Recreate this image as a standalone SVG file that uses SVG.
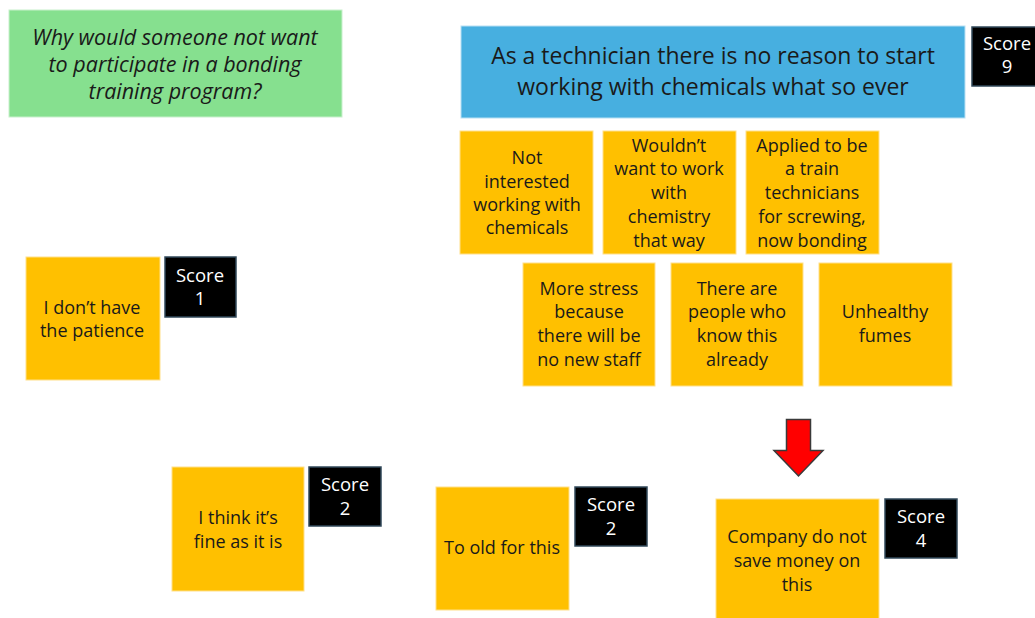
<svg xmlns="http://www.w3.org/2000/svg" width="1035" height="618" viewBox="0 0 1035 618">
  <style>
    .bg { fill: #ffffff; }
    .note { fill: #FFC000; stroke: #FFE08A; stroke-width: 1; }
    .score { fill: #000000; stroke: #30485A; stroke-width: 1.5; }
    .t { font-family: "Open Sans", "Liberation Sans", Arial, sans-serif; fill: #1a1a1a; text-anchor: middle; }
    .nt { font-size: 18px; }
    .st { font-size: 18.5px; fill: #ffffff; }
    .q { font-size: 21.5px; font-style: italic; }
    .h { font-size: 23px; }
  </style>
  <rect class="bg" x="0" y="0" width="1035" height="618"/>

  <!-- question -->
  <g id="question">
    <rect x="9" y="10" width="333" height="107" fill="#86E08F" stroke="#C8F0CC" stroke-width="1"/>
    <text class="t q" x="175" y="45">Why would someone not want</text>
    <text class="t q" x="175" y="72">to participate in a bonding</text>
    <text class="t q" x="175" y="99">training program?</text>
  </g>

  <!-- main reason -->
  <g id="main-reason">
    <rect x="461" y="26" width="504" height="92" fill="#47AFE0" stroke="#B8E0F4" stroke-width="1"/>
    <text class="t h" x="713" y="64">As a technician there is no reason to start</text>
    <text class="t h" x="713" y="95">working with chemicals what so ever</text>
  </g>
  <g id="score-9">
    <rect class="score" x="972" y="27" width="66" height="59"/>
    <text class="t st" x="1007" y="50">Score</text>
    <text class="t st" x="1007" y="73">9</text>
  </g>

  <!-- sub-reasons, first row -->
  <g id="note-not-interested">
    <rect class="note" x="460" y="131" width="133" height="123"/>
    <text class="t nt" x="527" y="164">Not</text>
    <text class="t nt" x="527" y="188">interested</text>
    <text class="t nt" x="527" y="211">working with</text>
    <text class="t nt" x="527" y="234">chemicals</text>
  </g>
  <g id="note-chemistry">
    <rect class="note" x="603" y="131" width="133" height="123"/>
    <text class="t nt" x="669" y="152">Wouldn’t</text>
    <text class="t nt" x="669" y="175">want to work</text>
    <text class="t nt" x="669" y="199">with</text>
    <text class="t nt" x="669" y="223">chemistry</text>
    <text class="t nt" x="669" y="247">that way</text>
  </g>
  <g id="note-applied">
    <rect class="note" x="746" y="131" width="133" height="123"/>
    <text class="t nt" x="812" y="152">Applied to be</text>
    <text class="t nt" x="812" y="175">a train</text>
    <text class="t nt" x="812" y="199">technicians</text>
    <text class="t nt" x="812" y="223">for screwing,</text>
    <text class="t nt" x="812" y="247">now bonding</text>
  </g>

  <!-- sub-reasons, second row -->
  <g id="note-stress">
    <rect class="note" x="523" y="263" width="132" height="123"/>
    <text class="t nt" x="589" y="295">More stress</text>
    <text class="t nt" x="589" y="318">because</text>
    <text class="t nt" x="589" y="342">there will be</text>
    <text class="t nt" x="589" y="366">no new staff</text>
  </g>
  <g id="note-people">
    <rect class="note" x="671" y="263" width="132" height="123"/>
    <text class="t nt" x="737" y="295">There are</text>
    <text class="t nt" x="737" y="318">people who</text>
    <text class="t nt" x="737" y="342">know this</text>
    <text class="t nt" x="737" y="366">already</text>
  </g>
  <g id="note-fumes">
    <rect class="note" x="819" y="263" width="133" height="123"/>
    <text class="t nt" x="885" y="318">Unhealthy</text>
    <text class="t nt" x="885" y="342">fumes</text>
  </g>

  <!-- other reasons -->
  <g id="note-patience">
    <rect class="note" x="26" y="257" width="134" height="123"/>
    <text class="t nt" x="92" y="314">I don’t have</text>
    <text class="t nt" x="92" y="337">the patience</text>
  </g>
  <g id="score-1">
    <rect class="score" x="165" y="257" width="71" height="60"/>
    <text class="t st" x="200" y="282">Score</text>
    <text class="t st" x="200" y="305">1</text>
  </g>

  <g id="note-fine">
    <rect class="note" x="172" y="467" width="132" height="124"/>
    <text class="t nt" x="238" y="524">I think it’s</text>
    <text class="t nt" x="238" y="548">fine as it is</text>
  </g>
  <g id="score-2a">
    <rect class="score" x="309" y="467" width="72" height="59"/>
    <text class="t st" x="345" y="491">Score</text>
    <text class="t st" x="345" y="515">2</text>
  </g>

  <g id="note-old">
    <rect class="note" x="436" y="487" width="133" height="123"/>
    <text class="t nt" x="502" y="554">To old for this</text>
  </g>
  <g id="score-2b">
    <rect class="score" x="575" y="487" width="72" height="59"/>
    <text class="t st" x="611" y="511">Score</text>
    <text class="t st" x="611" y="535">2</text>
  </g>

  <g id="note-money">
    <rect class="note" x="716" y="499" width="163" height="121"/>
    <text class="t nt" x="797" y="543">Company do not</text>
    <text class="t nt" x="797" y="567">save money on</text>
    <text class="t nt" x="797" y="591">this</text>
  </g>
  <g id="score-4">
    <rect class="score" x="885" y="499" width="72" height="59"/>
    <text class="t st" x="921" y="523">Score</text>
    <text class="t st" x="921" y="547">4</text>
  </g>

  <!-- connectors -->
  <g id="connectors">
    <path d="M786.5 419.5 H810.5 V450.5 H823 L798.5 476 L774 450.5 H786.5 Z" fill="#FF0000" stroke="#3A3A3A" stroke-width="1.5" stroke-linejoin="miter"/>
  </g>
</svg>
